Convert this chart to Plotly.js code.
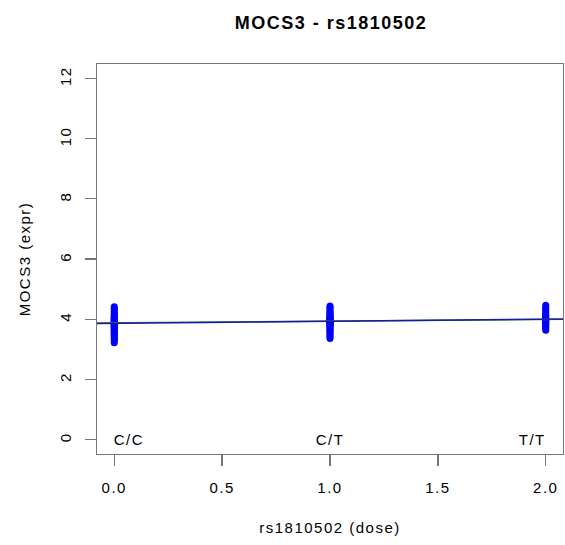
<!DOCTYPE html>
<html>
<head>
<meta charset="utf-8">
<script src="https://cdn.plot.ly/plotly-3.0.1.min.js"></script>
<style>html,body{margin:0;padding:0;background:#fff;}#chart{width:565px;height:545px;}#chart text{letter-spacing:1.5px;}</style>
</head>
<body>
<div id="chart"></div>
<script>
// Genotype doses and expression values
const doseCC = 0, doseCT = 1, doseTT = 2;
const exprCC = [3.22,3.28,3.33,3.38,3.42,3.46,3.5,3.53,3.56,3.6,3.63,3.66,3.69,3.72,3.74,3.77,3.79,3.81,3.83,3.85,3.87,3.89,3.91,3.93,3.95,3.97,3.99,4.01,4.04,4.07,4.1,4.13,4.17,4.21,4.26,4.31,4.36,4.41];
const exprCT = [3.36,3.42,3.47,3.52,3.57,3.61,3.65,3.68,3.72,3.75,3.78,3.8,3.83,3.85,3.87,3.89,3.91,3.93,3.95,3.97,3.99,4.01,4.03,4.05,4.08,4.11,4.14,4.17,4.21,4.25,4.3,4.35,4.4,4.44];
const exprTT = [3.63,3.68,3.73,3.78,3.82,3.86,3.9,3.93,3.96,3.99,4.02,4.05,4.08,4.12,4.16,4.21,4.27,4.33,4.39,4.46];
const genotypeLabels = ["C/C","C/T","T/T"];
const genotypeDose = [0,1,2];
// Fitted lines (endpoints over the plotted x range)
const fitX = [-0.08, 2.08];
const fitGreen = [3.875, 3.995];
const fitBlue = [3.855, 4.005];

const xs = [].concat(exprCC.map(()=>doseCC), exprCT.map(()=>doseCT), exprTT.map(()=>doseTT));
const ys = [].concat(exprCC, exprCT, exprTT);

const font = "Liberation Sans, Arial, sans-serif";
const traces = [
  {x: xs, y: ys, type: 'scatter', mode: 'markers',
   marker: {color: '#0000ff', size: 7, symbol: 'circle', line: {width: 0}}, hoverinfo: 'skip'},
  {x: fitX, y: fitGreen, type: 'scatter', mode: 'lines', line: {color: '#2e8b2e', width: 1.3}},
  {x: fitX, y: fitBlue, type: 'scatter', mode: 'lines', line: {color: '#1a1aaa', width: 1.5}}
];

const annotations = genotypeLabels.map((t,i)=>({
  x: genotypeDose[i], y: 0, xref: 'x', yref: 'y', text: t, showarrow: false,
  xanchor: i===0 ? 'left' : (i===1 ? 'center' : 'right'), yanchor: 'middle',
  font: {family: font, size: 15, color: '#000'}
}));

const layout = {
  width: 565, height: 545,
  margin: {l: 97, r: 2, t: 64, b: 91},
  paper_bgcolor: '#fff', plot_bgcolor: '#fff',
  showlegend: false,
  title: {text: '<b>MOCS3 - rs1810502</b>', x: 0.586, xanchor: 'center', y: 0.958, yanchor: 'middle',
          font: {family: font, size: 18, color: '#000'}},
  xaxis: {range: [-0.08, 2.08], tickvals: [0,0.5,1,1.5,2], ticktext: ['0.0','0.5','1.0','1.5','2.0'],
          ticks: 'outside', ticklen: 11, tickcolor: '#777', tickwidth: 1.3,
          showline: true, mirror: true, linecolor: '#777', linewidth: 1.3,
          showgrid: false, zeroline: false, ticklabelstandoff: 9,
          tickfont: {family: font, size: 15, color: '#000'},
          title: {text: 'rs1810502 (dose)', standoff: 27, font: {family: font, size: 15, color: '#000'}}},
  yaxis: {range: [-0.48, 12.48], tickvals: [0,2,4,6,8,10,12],
          ticks: 'outside', ticklen: 11, tickcolor: '#777', tickwidth: 1.3, tickangle: -90,
          showline: true, mirror: true, linecolor: '#777', linewidth: 1.3,
          showgrid: false, zeroline: false, ticklabelstandoff: 8,
          tickfont: {family: font, size: 15, color: '#000'},
          title: {text: 'MOCS3 (expr)', standoff: 22, font: {family: font, size: 15, color: '#000'}}},
  annotations: annotations
};

Plotly.newPlot('chart', traces, layout, {staticPlot: true, displayModeBar: false});
</script>
</body>
</html>
